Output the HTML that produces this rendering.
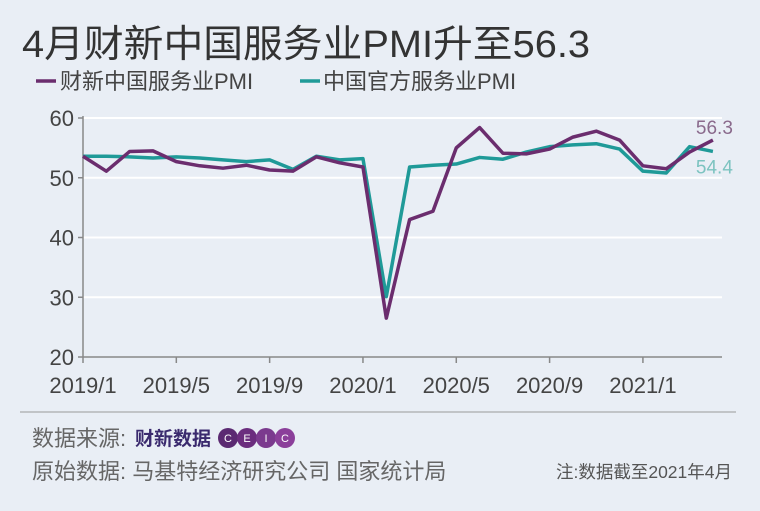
<!DOCTYPE html>
<html><head><meta charset="utf-8"><style>
body{margin:0;width:760px;height:506px;background:#e9eef5;overflow:hidden;font-family:"Liberation Sans","Noto Sans CJK SC",sans-serif;}
</style></head><body>
<svg width="760" height="506" xmlns="http://www.w3.org/2000/svg" id="svg">
<rect width="760" height="506" fill="#e9eef5"/>
<text x="22" y="57" font-size="38" fill="#333" textLength="568" lengthAdjust="spacingAndGlyphs" font-family="Liberation Sans,Noto Sans CJK SC,sans-serif">4月财新中国服务业PMI升至56.3</text>
<g>
<line x1="36" y1="81" x2="56" y2="81" stroke="#6b2d6e" stroke-width="3.5"/>
<text x="60" y="89" font-size="22" fill="#444">财新中国服务业PMI</text>
<line x1="300" y1="81" x2="320" y2="81" stroke="#1f9a98" stroke-width="3.5"/>
<text x="323" y="89" font-size="22" fill="#444">中国官方服务业PMI</text>
</g>
<g id="plot"></g>
<line x1="20" y1="412" x2="736" y2="412" stroke="#999" stroke-width="1"/>
<text x="32" y="446" font-size="22" fill="#666">数据来源:</text>
<text x="135" y="445" font-size="19" font-weight="bold" fill="#3a2a6e">财新数据</text>
<g>
<circle cx="228" cy="438" r="10" fill="#5b2a72"/><circle cx="247" cy="438" r="10" fill="#6b2d7e"/><circle cx="266" cy="438" r="10" fill="#7b3a8e"/><circle cx="285" cy="438" r="10" fill="#8b3f9a"/>
<text x="228" y="442" font-size="11" fill="#fff" text-anchor="middle">C</text><text x="247" y="442" font-size="11" fill="#fff" text-anchor="middle">E</text><text x="266" y="442" font-size="11" fill="#fff" text-anchor="middle">I</text><text x="285" y="442" font-size="11" fill="#fff" text-anchor="middle">C</text>
</g>
<text x="32" y="479" font-size="22" fill="#666">原始数据:  马基特经济研究公司  国家统计局</text>
<text x="732" y="478" font-size="17.5" fill="#555" text-anchor="end">注:数据截至2021年4月</text>
</svg>
<script>
const months = ["2019/1","2019/2","2019/3","2019/4","2019/5","2019/6","2019/7","2019/8","2019/9","2019/10","2019/11","2019/12","2020/1","2020/2","2020/3","2020/4","2020/5","2020/6","2020/7","2020/8","2020/9","2020/10","2020/11","2020/12","2021/1","2021/2","2021/3","2021/4"];
const caixin = [53.6,51.1,54.4,54.5,52.7,52.0,51.6,52.1,51.3,51.1,53.5,52.5,51.8,26.5,43.0,44.4,55.0,58.4,54.1,54.0,54.8,56.8,57.8,56.3,52.0,51.5,54.3,56.3];
const official = [53.6,53.6,53.5,53.3,53.5,53.3,53.0,52.7,53.0,51.4,53.6,53.0,53.2,30.1,51.8,52.1,52.3,53.4,53.1,54.3,55.2,55.5,55.7,54.8,51.1,50.8,55.2,54.4];
const yTicks = [20,30,40,50,60];
const xTickLabels = ["2019/1","2019/5","2019/9","2020/1","2020/5","2020/9","2021/1"];
const NS="http://www.w3.org/2000/svg";
const plot=document.getElementById('plot');
const x0=83, dx=23.33, yTop=118, yBot=357;
function xs(i){return x0+i*dx;}
function ys(v){return yBot-(v-20)/40*(yBot-yTop);}
function mk(t,a){const e=document.createElementNS(NS,t);for(const k in a)e.setAttribute(k,a[k]);plot.appendChild(e);return e;}
yTicks.forEach(v=>{
 if(v>20){const g=mk('line',{x1:x0,x2:722,y1:ys(v),y2:ys(v),stroke:'#fff','stroke-width':2});
 
 }
 const t=mk('line',{x1:x0-5,x2:x0,y1:ys(v),y2:ys(v),stroke:'#888','stroke-width':1.5});
 
 
 const l=mk('text',{x:x0-9,y:ys(v)+8,'font-size':22,fill:'#444','text-anchor':'end'});l.textContent=v;
 
 
});
const ya=mk('line',{x1:x0,x2:x0,y1:yTop-2,y2:yBot,stroke:'#888','stroke-width':1.5});


const xa=mk('line',{x1:x0,x2:722,y1:yBot,y2:yBot,stroke:'#888','stroke-width':1.5});


xTickLabels.forEach(lab=>{
 const i=months.indexOf(lab);
 const t=mk('line',{x1:xs(i),x2:xs(i),y1:yBot,y2:yBot+6,stroke:'#888','stroke-width':1.5});
 
 
 const l=mk('text',{x:xs(i),y:393,'font-size':22,fill:'#444','text-anchor':'middle'});l.textContent=lab;
 
 
});
function line(data,color,name){
 const p=mk('polyline',{points:data.map((v,i)=>xs(i)+','+ys(v)).join(' '),fill:'none',stroke:color,'stroke-width':3.5,'stroke-linejoin':'round'});
 
 
}
line(official,'#1f9a98','official-services-pmi-line');
line(caixin,'#6b2d6e','caixin-services-pmi-line');
const n=months.length-1;
const a=mk('text',{x:xs(n)-17,y:ys(caixin[n])-6,'font-size':19,fill:'#8a6a8c'});a.textContent=caixin[n].toFixed(1);


const b=mk('text',{x:xs(n)-17,y:ys(official[n])+22,'font-size':19,fill:'#7cc3c0'});b.textContent=official[n].toFixed(1);


</script>
</body></html>
